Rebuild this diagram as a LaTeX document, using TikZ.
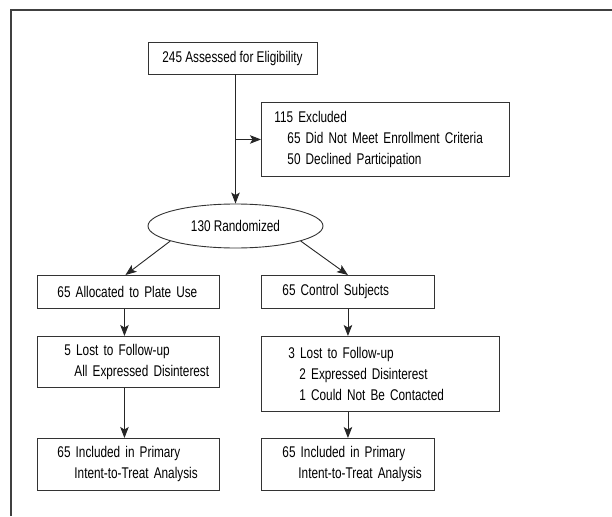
\documentclass[tikz,border=0pt]{standalone}
\usepackage{fontspec}
\setmainfont{Liberation Sans}[FakeStretch=0.76]
\usetikzlibrary{arrows.meta,shapes.geometric,calc}
\newcommand{\boxline}[2][0pt]{\mbox{\hspace*{#1}#2}}
\begin{document}
\begin{tikzpicture}[x=1pt,y=-1pt,
  font=\fontsize{15.5}{21}\selectfont,
  box/.style={draw=black!80, line width=0.9pt, rectangle, inner ysep=0pt, align=left, anchor=north west},
  arr/.style={draw=black!85, line width=0.9pt, -{Stealth[length=11pt,width=8.5pt,inset=2.5pt]}},
  frame/.style={draw=black!75, line width=1.3pt}]
\useasboundingbox (0,0) rectangle (612,516);
\draw[frame] (11,516) -- (11,10) -- (612,10);

\node[box, minimum width=169pt, minimum height=32pt, align=center, inner xsep=0pt, anchor=center] (assess) at (232.5,58) {245 Assessed for Eligibility};
\node[box, minimum height=74pt, text width=222pt, inner xsep=13pt] (excl) at (261,102)
  {\boxline{115 Excluded}\\\boxline[13pt]{65 Did Not Meet Enrollment Criteria}\\\boxline[13pt]{50 Declined Participation}};
\node[draw=black!80, line width=0.9pt, ellipse, minimum width=175pt, minimum height=44pt, inner sep=0pt] (rand) at (235.5,226) {130 Randomized};

\node[box, minimum height=33pt, text width=142pt, inner xsep=20pt] (alloc) at (37,275) {\boxline{65 Allocated to Plate Use}};
\node[box, minimum height=51pt, text width=142pt, inner xsep=20pt] (lost1) at (37,336)
  {\boxline[7pt]{5 Lost to Follow-up}\\\boxline[17pt]{All Expressed Disinterest}};
\node[box, minimum height=52pt, text width=142pt, inner xsep=20pt] (incl1) at (37,438)
  {\boxline{65 Included in Primary}\\\boxline[17pt]{Intent-to-Treat Analysis}};

\node[box, minimum height=33pt, text width=131pt, inner xsep=21pt] (ctrl) at (261,275) {\boxline{65 Control Subjects}};
\node[box, minimum height=75pt, text width=196pt, inner xsep=21pt] (lost2) at (261,336)
  {\boxline[6pt]{3 Lost to Follow-up}\\\boxline[17pt]{2 Expressed Disinterest}\\\boxline[17pt]{1 Could Not Be Contacted}};
\node[box, minimum height=52pt, text width=131pt, inner xsep=21pt] (incl2) at (261,438)
  {\boxline{65 Included in Primary}\\\boxline[16pt]{Intent-to-Treat Analysis}};

\draw[arr] (rand.north |- assess.south) -- (rand.north);
\draw[arr] (rand.north |- excl.west) -- (excl.west);
\draw[arr] (rand.193) -- ([xshift=-3pt]alloc.north);
\draw[arr] (rand.-13) -- (ctrl.north);
\draw[arr] ([xshift=-4pt]alloc.south) -- ([xshift=-4pt]lost1.north);
\draw[arr] ([xshift=-4pt]lost1.south) -- ([xshift=-4pt]incl1.north);
\draw[arr] (ctrl.south) -- (ctrl.south |- lost2.north);
\draw[arr] (incl2.north |- lost2.south) -- (incl2.north);
\end{tikzpicture}
\end{document}
